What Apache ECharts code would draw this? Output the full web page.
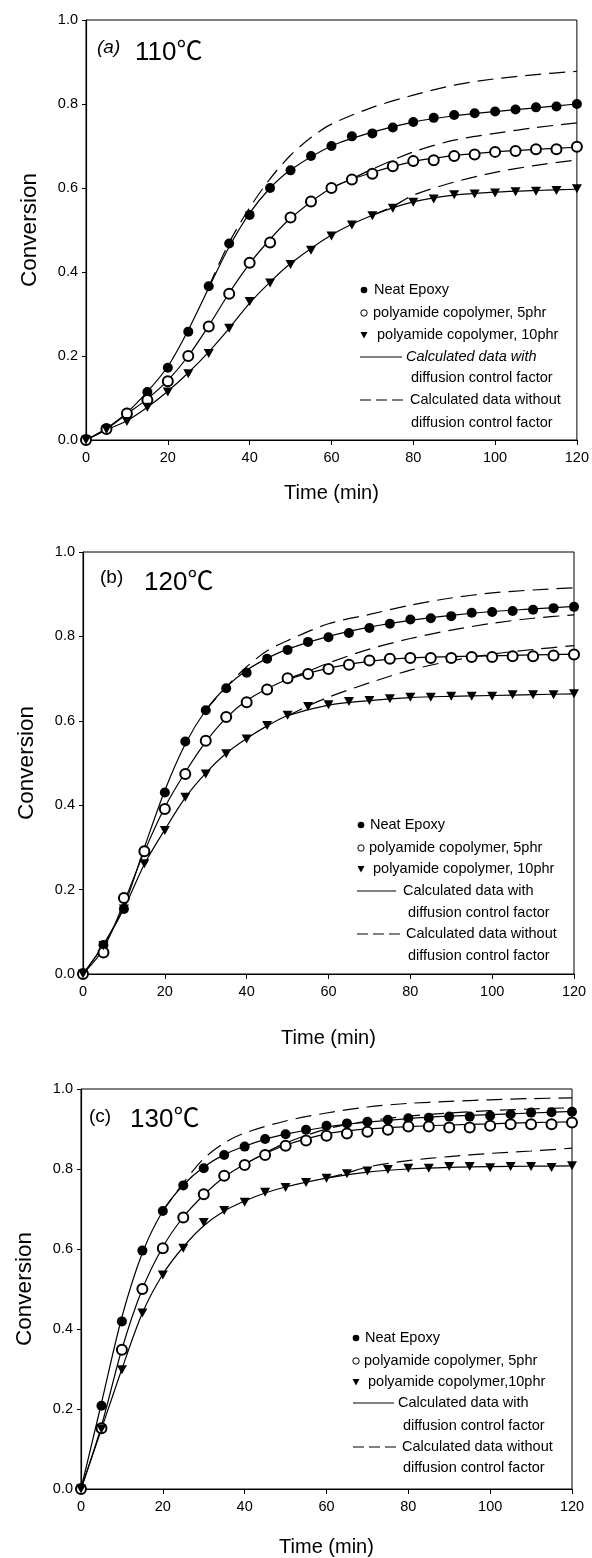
<!DOCTYPE html>
<html>
<head>
<meta charset="utf-8">
<script src="https://cdn.jsdelivr.net/npm/echarts@6.0.0/dist/echarts.min.js"></script>
<style>
html,body{margin:0;padding:0;background:#fff;}
#main{width:592px;height:1558px;}
</style>
</head>
<body>
<div id="main"></div>
<script>
// 实验点的时间 (min)
var time = [0,5,10,15,20,25,30,35,40,45,50,55,60,65,70,75,80,85,90,95,100,105,110,115,120];
// 拟合曲线 (含扩散因子) 的时间
var fitTime = [0,5,10,15,20,25,30,35,40,45,50,60,70,80,90,100,110,120];

// (a) 110℃
var neatA = [0,0.026,0.065,0.114,0.172,0.258,0.366,0.468,0.536,0.6,0.642,0.676,0.70,0.723,0.73,0.744,0.757,0.767,0.774,0.778,0.782,0.787,0.792,0.794,0.80];
var pa5A = [0,0.026,0.063,0.095,0.14,0.20,0.27,0.348,0.422,0.47,0.53,0.568,0.60,0.62,0.634,0.652,0.664,0.666,0.676,0.68,0.686,0.688,0.692,0.692,0.698];
var pa10A = [0,0.025,0.044,0.078,0.114,0.158,0.206,0.266,0.33,0.374,0.418,0.452,0.486,0.512,0.534,0.552,0.566,0.574,0.584,0.586,0.588,0.591,0.592,0.594,0.598];
var fitNeatA = [0,0.028,0.065,0.115,0.175,0.262,0.362,0.46,0.54,0.6,0.643,0.70,0.733,0.757,0.772,0.782,0.791,0.80];
var fitPa5A = [0,0.026,0.062,0.098,0.142,0.2,0.272,0.35,0.42,0.478,0.528,0.60,0.637,0.663,0.677,0.686,0.692,0.697];
var fitPa10A = [0,0.024,0.046,0.078,0.116,0.16,0.21,0.266,0.326,0.376,0.42,0.488,0.535,0.567,0.583,0.59,0.594,0.597];
var dashTNeatA = [30,35,40,45,50,55,60,70,80,90,100,110,120];
var dashNeatA = [0.365,0.47,0.553,0.622,0.678,0.72,0.752,0.792,0.821,0.845,0.86,0.87,0.878];
var dashTPa5A = [60,65,70,80,90,100,110,120];
var dashPa5A = [0.60,0.622,0.645,0.686,0.714,0.73,0.744,0.755];
var dashTPa10A = [70,75,80,90,100,110,120];
var dashPa10A = [0.535,0.556,0.583,0.614,0.637,0.654,0.667];

// (b) 120℃
var neatB = [0,0.069,0.154,0.292,0.43,0.551,0.625,0.677,0.714,0.747,0.768,0.787,0.798,0.808,0.82,0.83,0.84,0.843,0.848,0.856,0.858,0.86,0.863,0.867,0.87];
var pa5B = [0,0.051,0.18,0.291,0.391,0.474,0.553,0.609,0.644,0.674,0.701,0.711,0.723,0.733,0.743,0.747,0.749,0.749,0.749,0.751,0.751,0.753,0.753,0.755,0.757];
var pa10B = [0,0.067,0.154,0.261,0.34,0.419,0.474,0.522,0.557,0.589,0.613,0.634,0.638,0.646,0.648,0.652,0.656,0.656,0.658,0.658,0.658,0.662,0.662,0.662,0.664];
var fitNeatB = [0,0.07,0.16,0.3,0.435,0.545,0.625,0.68,0.72,0.748,0.77,0.8,0.822,0.838,0.85,0.859,0.865,0.871];
var fitPa5B = [0,0.06,0.17,0.29,0.395,0.478,0.55,0.607,0.648,0.676,0.698,0.725,0.741,0.749,0.752,0.754,0.756,0.758];
var fitPa10B = [0,0.068,0.155,0.26,0.342,0.418,0.476,0.523,0.558,0.588,0.612,0.637,0.648,0.655,0.658,0.66,0.662,0.664];
var dashTNeatB = [30,35,40,45,50,60,70,80,90,100,110,120];
var dashNeatB = [0.625,0.68,0.728,0.766,0.79,0.83,0.852,0.874,0.891,0.903,0.91,0.915];
var dashTPa5B = [50,55,60,70,80,90,100,110,120];
var dashPa5B = [0.70,0.717,0.737,0.77,0.795,0.815,0.831,0.843,0.851];
var dashTPa10B = [50,55,60,70,80,90,100,110,120];
var dashPa10B = [0.612,0.635,0.656,0.69,0.72,0.742,0.758,0.769,0.778];

// (c) 130℃
var neatC = [0,0.208,0.419,0.596,0.695,0.759,0.802,0.835,0.856,0.875,0.887,0.898,0.908,0.914,0.918,0.923,0.927,0.928,0.931,0.931,0.933,0.937,0.941,0.942,0.943];
var pa5C = [0,0.152,0.348,0.5,0.602,0.679,0.737,0.783,0.81,0.835,0.858,0.871,0.883,0.889,0.893,0.898,0.906,0.906,0.904,0.904,0.908,0.912,0.912,0.912,0.916];
var pa10C = [0,0.15,0.298,0.44,0.535,0.602,0.666,0.696,0.717,0.742,0.754,0.766,0.777,0.788,0.795,0.799,0.802,0.802,0.806,0.806,0.803,0.806,0.806,0.804,0.808];
var fitNeatC = [0,0.215,0.43,0.59,0.695,0.76,0.805,0.836,0.857,0.874,0.887,0.905,0.917,0.926,0.932,0.936,0.94,0.944];
var fitPa5C = [0,0.158,0.35,0.5,0.605,0.68,0.735,0.78,0.812,0.838,0.86,0.888,0.9,0.906,0.91,0.913,0.916,0.918];
var fitPa10C = [0,0.15,0.3,0.44,0.537,0.605,0.658,0.695,0.72,0.74,0.755,0.777,0.792,0.8,0.804,0.806,0.807,0.808];
var dashTNeatC = [20,25,30,35,40,50,60,70,80,90,100,110,120];
var dashNeatC = [0.695,0.765,0.826,0.865,0.89,0.92,0.94,0.955,0.964,0.969,0.973,0.976,0.978];
var dashTPa5C = [40,45,50,60,70,80,90,100,110,120];
var dashPa5C = [0.812,0.84,0.865,0.9,0.92,0.932,0.94,0.946,0.95,0.953];
var dashTPa10C = [60,65,70,80,90,100,110,120];
var dashPa10C = [0.777,0.79,0.805,0.821,0.831,0.839,0.845,0.852];

var xTicks = {min: 0, max: 120, interval: 20};
var yTicks = {min: 0, max: 1, interval: 0.2};
var legendNames = ['Neat Epoxy', 'polyamide copolymer, 5phr', 'polyamide copolymer, 10phr',
    'Calculated data with', 'diffusion control factor', 'Calculated data without', 'diffusion control factor'];
var legendNamesC = ['Neat Epoxy', 'polyamide copolymer, 5phr', 'polyamide copolymer,10phr'];

var FONT = '"Liberation Sans", Arial, "Noto Sans CJK SC", sans-serif';

function pairs(ts, vs) {
    return ts.map(function (t, i) { return [t, vs[i]]; });
}

// 三个子图
var panels = [
    {grid: {left: 86, top: 20, width: 492, height: 420}, nameGap: 43,
     tag: '(a)', temp: '110℃', tagPos: [97, 47.5], tempPos: [135, 53], italic: true,
     pts: [neatA, pa5A, pa10A], fits: [fitNeatA, fitPa5A, fitPa10A],
     dash: [[dashTNeatA, dashNeatA], [dashTPa5A, dashPa5A], [dashTPa10A, dashPa10A]],
     names: legendNames,
     lg: {rows: [290, 313, 335, 357, 378, 400, 423], mk: 364, tx: [374, 373, 377], l1: 360, l2: 402, t2: 406, t3: 411, d2: 408, t4: 410}},
    {grid: {left: 83, top: 552, width: 491, height: 422}, nameGap: 54,
     tag: '(b)', temp: '120℃', tagPos: [100, 578], tempPos: [144, 582.5], italic: false,
     pts: [neatB, pa5B, pa10B], fits: [fitNeatB, fitPa5B, fitPa10B],
     dash: [[dashTNeatB, dashNeatB], [dashTPa5B, dashPa5B], [dashTPa10B, dashPa10B]],
     names: legendNames,
     lg: {rows: [825, 848, 869, 891, 913, 934, 956], mk: 361, tx: [370, 369, 373], l1: 357, l2: 396, t2: 403, t3: 408, d2: 402, t4: 406}},
    {grid: {left: 81, top: 1089, width: 491, height: 401}, nameGap: 48,
     tag: '(c)', temp: '130℃', tagPos: [89, 1117], tempPos: [130, 1120], italic: false,
     pts: [neatC, pa5C, pa10C], fits: [fitNeatC, fitPa5C, fitPa10C],
     dash: [[dashTNeatC, dashNeatC], [dashTPa5C, dashPa5C], [dashTPa10C, dashPa10C]],
     names: legendNamesC.concat(legendNames.slice(3)),
     lg: {rows: [1338, 1361, 1382, 1403, 1426, 1447, 1468], mk: 356, tx: [365, 364, 368], l1: 353, l2: 394, t2: 398, t3: 403, d2: 396, t4: 402}}
];

var grids = [], xAxes = [], yAxes = [], series = [], graphics = [];
var markStyles = [
    {symbol: 'circle', symbolSize: 10, itemStyle: {color: '#000', opacity: 1}},
    {symbol: 'emptyCircle', symbolSize: 10, itemStyle: {color: '#000', borderWidth: 1.1, opacity: 1}},
    {symbol: 'triangle', symbolSize: [10, 9], symbolRotate: 180, itemStyle: {color: '#000', opacity: 1}}
];

function txt(x, y, s, size, style) {
    return {type: 'text', x: x, y: y, silent: true,
        style: {text: s, fill: '#000', font: (style || '') + ' ' + size + 'px ' + FONT, verticalAlign: 'middle'}};
}

panels.forEach(function (p, k) {
    grids.push(Object.assign({show: true, borderColor: '#000', borderWidth: 1, backgroundColor: '#fff'}, p.grid));
    xAxes.push(Object.assign({
        type: 'value', gridIndex: k,
        name: 'Time (min)', nameLocation: 'middle', nameGap: p.nameGap,
        nameTextStyle: {fontFamily: FONT, fontSize: 20, color: '#000'},
        axisLine: {lineStyle: {color: '#000', width: 1.2}},
        axisTick: {inside: false, length: 5, lineStyle: {color: '#000'}},
        axisLabel: {fontFamily: FONT, fontSize: 14.5, color: '#000', margin: 11},
        splitLine: {show: false}
    }, xTicks));
    yAxes.push(Object.assign({
        type: 'value', gridIndex: k,
        name: 'Conversion', nameLocation: 'middle', nameGap: 45,
        nameTextStyle: {fontFamily: FONT, fontSize: 22.5, color: '#000'},
        axisLine: {lineStyle: {color: '#000', width: 1.2}},
        axisTick: {inside: false, length: 4, lineStyle: {color: '#000'}},
        axisLabel: {fontFamily: FONT, fontSize: 14.5, color: '#000', margin: 8,
            formatter: function (v) { return v.toFixed(1); }},
        splitLine: {show: false}
    }, yTicks));

    // 不含扩散因子的计算曲线 (虚线)
    p.dash.forEach(function (d) {
        series.push({type: 'line', xAxisIndex: k, yAxisIndex: k, data: pairs(d[0], d[1]),
            showSymbol: false, symbol: 'none', smooth: 0.3, silent: true, z: 2,
            lineStyle: {color: '#000', width: 1.2, type: [16, 8]}});
    });
    // 含扩散因子的计算曲线 (实线)
    p.fits.forEach(function (f) {
        series.push({type: 'line', xAxisIndex: k, yAxisIndex: k, data: pairs(fitTime, f),
            showSymbol: false, symbol: 'none', smooth: 0.3, silent: true, z: 3,
            lineStyle: {color: '#000', width: 1.2}});
    });
    // 实验点
    p.pts.forEach(function (v, i) {
        series.push(Object.assign({type: 'scatter', xAxisIndex: k, yAxisIndex: k,
            data: pairs(time, v), silent: true, z: 4}, markStyles[i]));
    });

    // 标题
    graphics.push(txt(p.tagPos[0], p.tagPos[1], p.tag, 19, p.italic ? 'italic' : ''));
    graphics.push(txt(p.tempPos[0], p.tempPos[1], p.temp, 26, ''));

    // 图例
    var L = p.lg, r = L.rows;
    graphics.push({type: 'circle', x: L.mk, y: r[0], shape: {cx: 0, cy: 0, r: 3.3}, style: {fill: '#000'}, silent: true});
    graphics.push({type: 'circle', x: L.mk, y: r[1], shape: {cx: 0, cy: 0, r: 3.2}, style: {fill: '#fff', stroke: '#000', lineWidth: 1}, silent: true});
    graphics.push({type: 'polygon', x: L.mk, y: r[2], shape: {points: [[-3.5, -3], [3.5, -3], [0, 3.5]]}, style: {fill: '#000'}, silent: true});
    graphics.push(txt(L.tx[0], r[0], p.names[0], 14.5));
    graphics.push(txt(L.tx[1], r[1], p.names[1], 14.5));
    graphics.push(txt(L.tx[2], r[2], p.names[2], 14.5));
    graphics.push({type: 'line', shape: {x1: L.l1, y1: r[3], x2: L.l2, y2: r[3]}, style: {stroke: '#000', lineWidth: 1.2}, silent: true});
    graphics.push(txt(L.t2, r[3], p.names[3], 14.5, p.italic ? 'italic' : ''));
    graphics.push(txt(L.t3, r[4], p.names[4], 14.5));
    graphics.push({type: 'line', shape: {x1: L.l1, y1: r[5], x2: L.d2, y2: r[5]}, style: {stroke: '#000', lineWidth: 1.2, lineDash: [11, 5]}, silent: true});
    graphics.push(txt(L.t4, r[5], p.names[5], 14.5));
    graphics.push(txt(L.t3, r[6], p.names[6], 14.5));
});

var myChart = echarts.init(document.getElementById('main'), null, {renderer: 'canvas'});
myChart.setOption({
    animation: false,
    backgroundColor: '#fff',
    grid: grids,
    xAxis: xAxes,
    yAxis: yAxes,
    series: series,
    graphic: graphics
});
</script>
</body>
</html>
